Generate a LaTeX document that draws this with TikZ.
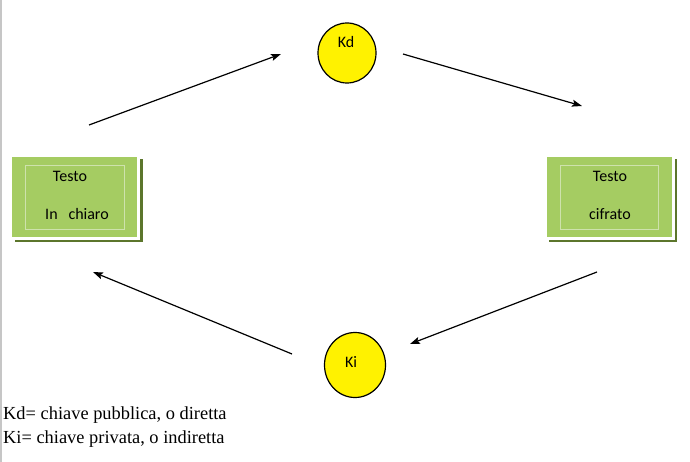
\documentclass[tikz,border=0pt]{standalone}
\usepackage{fontspec}
\setmainfont{Liberation Serif}
\newfontfamily\boxfont{Carlito}
\usepackage{tikz}
\usetikzlibrary{arrows.meta,shapes.geometric,shadows}
\usepackage{xcolor}
\definecolor{boxgreen}{RGB}{165,204,98}
\definecolor{shadowgreen}{RGB}{92,118,44}
\definecolor{linegreen}{RGB}{206,226,172}

\begin{document}
\begin{tikzpicture}[x=1pt,y=-1pt,
	>={Stealth[length=10pt,width=7pt,inset=2pt]},
	mybox/.style={
  		draw=white,
  		line width=3pt,
  		fill=boxgreen,
  		minimum width=128pt,
  		minimum height=83pt,
  		drop shadow={shadow xshift=4pt,shadow yshift=-4pt,fill=shadowgreen,opacity=1}
  	},
	myinner/.style={draw=linegreen, line width=0.8pt},
	mykey/.style={
  		ellipse,
  		draw,
  		line width=1.2pt,
  		fill=yellow,
  		inner sep=0pt
  	},
	mytext/.style={font=\boxfont\fontsize{16}{19}\selectfont, anchor=base, inner sep=0pt},
	mylegend/.style={font=\fontsize{18.4}{22}\selectfont, anchor=base west, inner sep=0pt},
	myarrow/.style={->, line width=1.2pt}]

	\useasboundingbox (0,0) rectangle (690,462);
	\draw[gray!45, line width=1.5pt] (0.75,0) -- (0.75,462);

	% boxes
	\node[mybox] (plain) at (74.5,197) {};
	\node[mybox] (cipher) at (609,197) {};
	\draw[myinner] ([shift={(-49.5,-32)}]plain.center) rectangle ([shift={(49.5,32)}]plain.center);
	\draw[myinner] ([shift={(-49,-32)}]cipher.center) rectangle ([shift={(49,32)}]cipher.center);

	\node[mytext] (plaintop) at (70,182) {Testo};
	\node[mytext] (plainbot) at (77,220) {In~~~chiaro};
	\node[mytext] (ciphertop) at (610,182) {Testo};
	\node[mytext] (cipherbot) at (610,220) {cifrato};

	% keys
	\node[mykey, minimum width=58pt, minimum height=60pt] (kd) at (347,53) {};
	\node[mykey, minimum width=61pt, minimum height=65pt] (ki) at (355,365) {};
	\node[mytext] (kdtext) at (346,48) {Kd};
	\node[mytext] (kitext) at (351,367) {Ki};

	% arrows
	\coordinate (A1) at (89,125);
	\coordinate (B1) at (281,54);
	\coordinate (A2) at (403,54);
	\coordinate (B2) at (582,106);
	\coordinate (A3) at (597,272);
	\coordinate (B3) at (410,344);
	\coordinate (A4) at (292,354);
	\coordinate (B4) at (93,272);
	\draw[myarrow] (A1) -- (B1);
	\draw[myarrow] (A2) -- (B2);
	\draw[myarrow] (A3) -- (B3);
	\draw[myarrow] (A4) -- (B4);

	% legend
	\node[mylegend] (legkd) at (3,419) {Kd= chiave pubblica, o diretta};
	\node[mylegend] (legki) at (3,443) {Ki= chiave privata, o indiretta};
\end{tikzpicture}
\end{document}
